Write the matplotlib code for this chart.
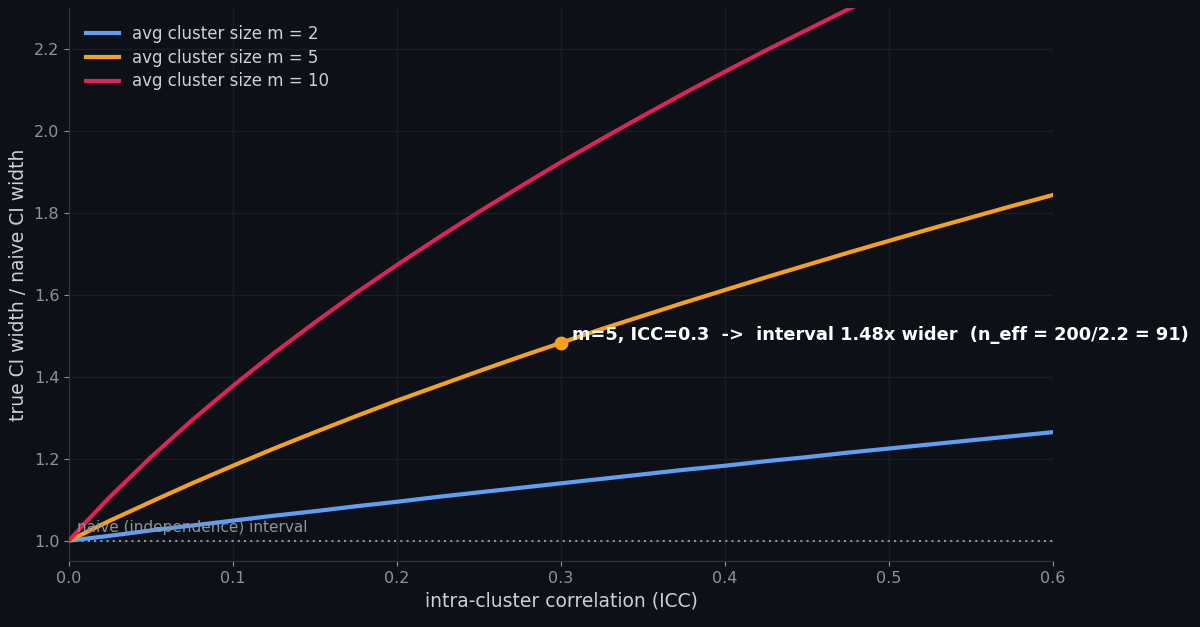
import matplotlib
matplotlib.use("Agg")
import matplotlib.pyplot as plt

# ICC grid and width-ratio curves
icc = [0.0, 0.025, 0.05, 0.075, 0.1, 0.125, 0.15, 0.175, 0.2, 0.225, 0.25,
       0.275, 0.3, 0.325, 0.35, 0.375, 0.4, 0.425, 0.45, 0.475, 0.5,
       0.525, 0.55, 0.575, 0.6]
ratio_m2 = [1.000, 1.012, 1.025, 1.037, 1.049, 1.061, 1.072, 1.084, 1.095,
            1.107, 1.118, 1.129, 1.140, 1.151, 1.162, 1.173, 1.183, 1.194,
            1.204, 1.215, 1.225, 1.235, 1.245, 1.255, 1.265]
ratio_m5 = [1.000, 1.049, 1.095, 1.140, 1.183, 1.225, 1.265, 1.304, 1.342,
            1.378, 1.414, 1.449, 1.483, 1.517, 1.549, 1.581, 1.612, 1.643,
            1.673, 1.703, 1.732, 1.761, 1.789, 1.817, 1.844]
ratio_m10 = [1.000, 1.107, 1.204, 1.294, 1.378, 1.458, 1.533, 1.605, 1.673,
             1.739, 1.803, 1.864, 1.924, 1.981, 2.037, 2.092, 2.145, 2.197,
             2.247, 2.297, 2.345, 2.393, 2.439, 2.485, 2.530]

# small near-zero points so the m=10 curve bends smoothly
icc_start = [0.0, 0.005, 0.01, 0.015, 0.02]
m10_start = [1.000, 1.022, 1.044, 1.065, 1.086]

hl_icc = 0.3
hl_ratio = 1.483
hl_text = "m=5, ICC=0.3  ->  interval 1.48x wider  (n_eff = 200/2.2 = 91)"

bg = "#0d1117"
fig = plt.figure(figsize=(12, 6.27), dpi=100, facecolor=bg)
ax = fig.add_axes([0.0575, 0.105, 0.82, 0.882])
ax.set_facecolor(bg)

ax.plot(icc, ratio_m2, color="#5f9ef5", lw=3, label="avg cluster size m = 2", zorder=3)
ax.plot(icc, ratio_m5, color="#f5a01f", lw=3, label="avg cluster size m = 5", zorder=3)
ax.plot(icc_start + icc[1:], m10_start + ratio_m10[1:], color="#dc2458", lw=3,
        label="avg cluster size m = 10", zorder=3)

ax.plot([0, 0.6], [1.0, 1.0], color="#8b949e", lw=1.5, ls=(0, (1, 2)), zorder=2)
ax.text(0.005, 1.02, "naive (independence) interval", color="#8b949e", fontsize=11)

ax.plot(hl_icc, hl_ratio, "o", color="#f5a01f", ms=9, zorder=4)
ax.annotate(hl_text, (hl_icc, hl_ratio), xytext=(8, 2), textcoords="offset points",
            color="white", fontsize=12.75, fontweight="bold", annotation_clip=False)

ax.set_xlim(0, 0.6)
ax.set_ylim(0.95, 2.30)
ax.set_xticks([0.0, 0.1, 0.2, 0.3, 0.4, 0.5, 0.6])
ax.set_yticks([1.0, 1.2, 1.4, 1.6, 1.8, 2.0, 2.2])
ax.grid(True, color="#191e25", lw=1)
ax.set_axisbelow(True)
for s in ["top", "right"]:
    ax.spines[s].set_visible(False)
for s in ["left", "bottom"]:
    ax.spines[s].set_color("#30363d")
ax.tick_params(colors="#8b949e", labelsize=11.5)
ax.set_xlabel("intra-cluster correlation (ICC)", color="#c9d1d9", fontsize=13.5)
ax.set_ylabel("true CI width / naive CI width", color="#c9d1d9", fontsize=13.5)

leg = ax.legend(loc="upper left", frameon=False, fontsize=12, handlelength=2.0,
                labelspacing=0.35, borderaxespad=0.6)
for t in leg.get_texts():
    t.set_color("#c9d1d9")

fig.savefig("out.png", facecolor=bg)
